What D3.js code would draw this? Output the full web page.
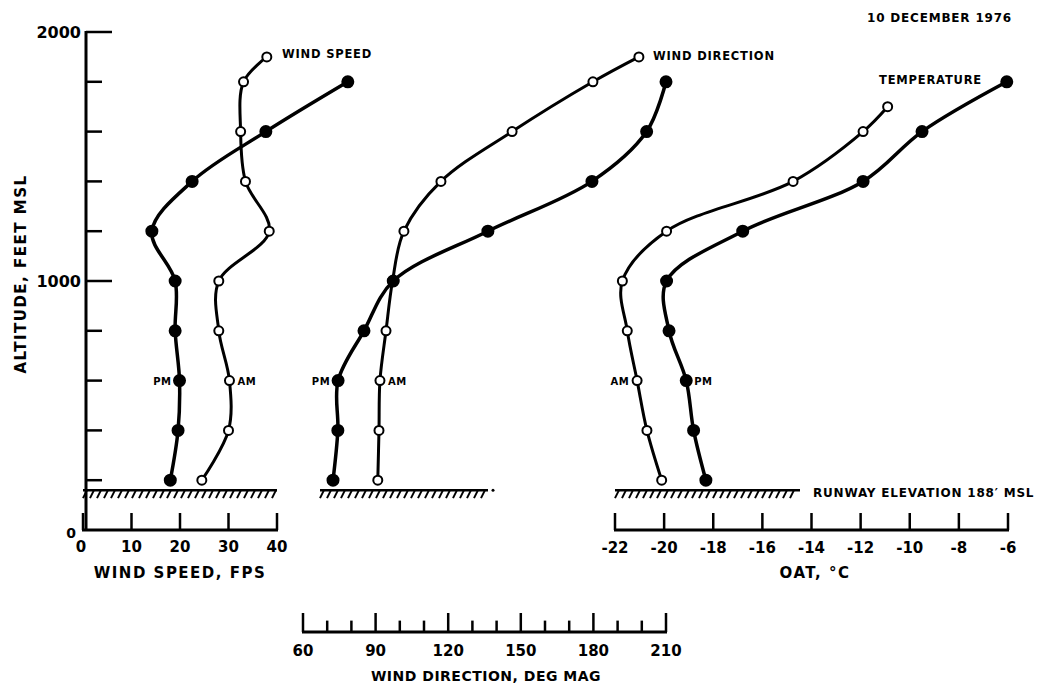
<!DOCTYPE html>
<html><head><meta charset="utf-8">
<script src="https://cdn.jsdelivr.net/npm/d3@7"></script>
<style>
html,body{margin:0;padding:0;background:#fff;}
text{font-family:"DejaVu Sans",sans-serif;font-weight:bold;fill:#000;}
</style></head>
<body>
<svg id="c" width="1045" height="689"></svg>
<script>
// ---- data ----
const altitudes = [200, 400, 600, 800, 1000, 1200, 1400, 1600, 1800];
const speedAlt_AM = [200, 400, 600, 800, 1000, 1200, 1400, 1600, 1800, 1900];
const speedAM = [24.5, 30, 30.2, 28, 28, 38.4, 33.5, 32.5, 33.1, 37.9];
const speedPM = [18, 19.6, 19.9, 19, 19, 14.2, 22.5, 37.7, 54.6];
const dirAlt_AM = [200, 400, 600, 800, 1000, 1200, 1400, 1600, 1800, 1900];
const dirAM = [90.9, 91.4, 91.8, 94.3, 97, 101.7, 117, 146.4, 179.8, 198.8];
const dirPM = [72.4, 74.4, 74.5, 85.2, 97.3, 136.4, 179.4, 202, 210];
const tempAlt_AM = [200, 400, 600, 800, 1000, 1200, 1400, 1600, 1700];
const tempAM = [-20.1, -20.7, -21.1, -21.5, -21.7, -19.9, -14.75, -11.9, -10.9];
const tempPM = [-18.3, -18.8, -19.1, -19.8, -19.9, -16.8, -11.9, -9.5, -6.05];
const altTicks = [200, 400, 600, 800, 1000, 1200, 1400, 1600, 1800, 2000];
const altLabels = [0, 1000, 2000];
const speedTicks = [0, 10, 20, 30, 40];
const dirTicks = [60, 70, 80, 90, 100, 110, 120, 130, 140, 150, 160, 170, 180, 190, 200, 210];
const dirLabels = [60, 90, 120, 150, 180, 210];
const tempTicks = [-22, -20, -18, -16, -14, -12, -10, -8, -6];
const runwayAlt = 160;

// ---- scales ----
const svg = d3.select("#c");
const y = d3.scaleLinear().domain([0, 2000]).range([530, 32]);
const xs = d3.scaleLinear().domain([0, 40]).range([83, 277]);
const xd = d3.scaleLinear().domain([60, 210]).range([303, 666]);
const xt = d3.scaleLinear().domain([-22, -6]).range([615, 1008]);

const black = "#000";

// ---- altitude axis ----
const ya = svg.append("g");
ya.append("line").attr("x1", 86).attr("x2", 86).attr("y1", y(2000) - 1).attr("y2", y(0))
  .attr("stroke", black).attr("stroke-width", 3);
ya.selectAll("line.t").data(altTicks).join("line").attr("class", "t")
  .attr("x1", 86).attr("x2", d => (d % 1000 === 0) ? 112 : 102)
  .attr("y1", d => y(d)).attr("y2", d => y(d))
  .attr("stroke", black).attr("stroke-width", 2.5);
ya.selectAll("text").data(altLabels).join("text")
  .attr("x", d => d === 0 ? 76 : 81).attr("y", d => y(d) + (d === 0 ? 8 : 6))
  .attr("text-anchor", "end").attr("font-size", d => d === 0 ? 14 : 16).text(d => d);
svg.append("text").attr("transform", "translate(26,274) rotate(-90)")
  .attr("text-anchor", "middle").attr("font-size", 15).attr("letter-spacing", 1.5)
  .text("ALTITUDE, FEET MSL");

// ---- horizontal axes ----
function hAxis(scale, ticks, base, tickH, majorFn, labels, labelY, fmt) {
  const g = svg.append("g");
  const [a, b] = scale.range();
  g.append("line").attr("x1", a - 1).attr("x2", b + 1).attr("y1", base).attr("y2", base)
    .attr("stroke", black).attr("stroke-width", 3);
  g.selectAll("line.t").data(ticks).join("line").attr("class", "t")
    .attr("x1", d => scale(d)).attr("x2", d => scale(d))
    .attr("y1", base).attr("y2", d => base - (majorFn(d) ? tickH : tickH * 0.6))
    .attr("stroke", black).attr("stroke-width", 2.5);
  g.selectAll("text").data(labels).join("text")
    .attr("x", d => scale(d)).attr("y", labelY)
    .attr("text-anchor", "middle").attr("font-size", 15).text(fmt);
}
hAxis(xs, speedTicks, 530, 17, d => true, speedTicks.slice(1), 552, d => d);
svg.append("text").attr("x", xs(0) - 2).attr("y", 552).attr("text-anchor", "middle")
  .attr("font-size", 15).text("0");
hAxis(xd, dirTicks, 632, 19, d => d % 30 === 0, dirLabels, 656, d => d);
hAxis(xt, tempTicks, 530, 17, d => true, tempTicks, 553, d => "-" + Math.abs(d));

svg.append("text").attr("x", 180).attr("y", 578).attr("text-anchor", "middle")
  .attr("font-size", 15).attr("letter-spacing", 1.5).text("WIND SPEED, FPS");
svg.append("text").attr("x", 486).attr("y", 681).attr("text-anchor", "middle")
  .attr("font-size", 14).attr("letter-spacing", 0.5).text("WIND DIRECTION, DEG MAG");
svg.append("text").attr("x", 815).attr("y", 578).attr("text-anchor", "middle")
  .attr("font-size", 15).attr("letter-spacing", 1.5).text("OAT, °C");

// ---- runway hatching ----
function hatch(x1, x2, dot) {
  const yy = y(runwayAlt);
  const g = svg.append("g");
  g.append("line").attr("x1", x1).attr("x2", x2).attr("y1", yy).attr("y2", yy)
    .attr("stroke", black).attr("stroke-width", 2.5);
  const xs2 = d3.range(x1 + 4, x2 + 1, 7);
  g.selectAll("line.h").data(xs2).join("line").attr("class", "h")
    .attr("x1", d => d).attr("x2", d => d - 4).attr("y1", yy).attr("y2", yy + 8)
    .attr("stroke", black).attr("stroke-width", 2);
  if (dot) g.append("circle").attr("cx", x2 + 5).attr("cy", yy).attr("r", 1.5).attr("fill", black);
}
hatch(xs(0), xs(40), false);
hatch(320, 488, true);
hatch(xt(-22), 800, false);
svg.append("text").attr("x", 813).attr("y", 497).attr("font-size", 12).attr("letter-spacing", 0.8)
  .text("RUNWAY ELEVATION  188′ MSL");

// ---- series ----
function series(xScale, vals, alts, filled) {
  const pts = vals.map((v, i) => [xScale(v), y(alts[i])]);
  svg.append("path").attr("d", d3.line().curve(d3.curveCatmullRom.alpha(0.5))(pts))
    .attr("fill", "none").attr("stroke", black).attr("stroke-width", filled ? 3.5 : 3)
    .attr("stroke-linejoin", "round");
  svg.append("g").selectAll("circle").data(pts).join("circle")
    .attr("cx", d => d[0]).attr("cy", d => d[1]).attr("r", filled ? 5.5 : 4.5)
    .attr("fill", filled ? black : "#fff").attr("stroke", black).attr("stroke-width", 2);
}
series(xs, speedAM, speedAlt_AM, false);
series(xs, speedPM, altitudes, true);
series(xd, dirAM, dirAlt_AM, false);
series(xd, dirPM, altitudes, true);
series(xt, tempAM, tempAlt_AM, false);
series(xt, tempPM, altitudes, true);

// ---- labels ----
function lab(x, yy, t, size, anchor, ls) {
  svg.append("text").attr("x", x).attr("y", yy).attr("font-size", size)
    .attr("text-anchor", anchor || "start").attr("letter-spacing", ls || 0.8).text(t);
}
lab(282, 58, "WIND SPEED", 11.5);
lab(653, 60, "WIND DIRECTION", 11.5);
lab(879, 84, "TEMPERATURE", 11.5);
lab(1012, 22, "10 DECEMBER 1976", 12, "end");
lab(xs(speedPM[2]) - 8, y(600) + 4, "PM", 10, "end", 0.5);
lab(xs(speedAM[2]) + 8, y(600) + 4, "AM", 10, "start", 0.5);
lab(xd(dirPM[2]) - 8, y(600) + 4, "PM", 10, "end", 0.5);
lab(xd(dirAM[2]) + 8, y(600) + 4, "AM", 10, "start", 0.5);
lab(xt(tempAM[2]) - 8, y(600) + 4, "AM", 10, "end", 0.5);
lab(xt(tempPM[2]) + 8, y(600) + 4, "PM", 10, "start", 0.5);
</script>
</body></html>
